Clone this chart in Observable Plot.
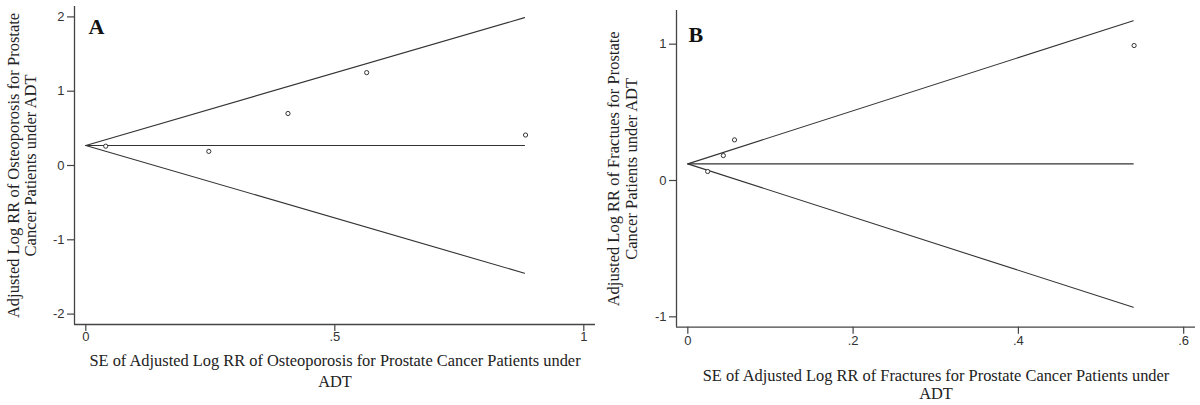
<!DOCTYPE html>
<html>
<head>
<meta charset="utf-8">
<script src="https://cdn.jsdelivr.net/npm/d3@7"></script>
<script src="https://cdn.jsdelivr.net/npm/@observablehq/plot@0.6"></script>
<style>
  body { margin: 0; background: #fff; }
  #row { display: flex; width: 1200px; height: 405px; }
  #row svg { display: block; }
</style>
</head>
<body>
<div id="row"></div>
<script>
// ---------- Panel A: Osteoporosis ----------
const panelLabelA = "A";
const seA = [0.04, 0.247, 0.406, 0.564, 0.883];
const logRRA = [0.26, 0.19, 0.70, 1.25, 0.41];
const pooledA = 0.27;
const seMaxA = 0.881;
const upperEndA = 1.99;
const lowerEndA = -1.45;
const xTicksA = [0, 0.5, 1];
const xTickLabelsA = ["0", ".5", "1"];
const yTicksA = [-2, -1, 0, 1, 2];
const yTickLabelsA = ["-2", "-1", "0", "1", "2"];
const xDomainA = [-0.0227, 1.0235];
const yDomainA = [-2.14, 2.14];
const xTitleA = "SE of Adjusted Log RR of Osteoporosis for Prostate Cancer Patients under\nADT";
const yTitleA = "Adjusted Log RR of Osteoporosis for Prostate\nCancer Patients under ADT";

// ---------- Panel B: Fractures ----------
const panelLabelB = "B";
const seB = [0.024, 0.043, 0.0565, 0.540];
const logRRB = [0.066, 0.183, 0.298, 0.99];
const pooledB = 0.122;
const seMaxB = 0.539;
const upperEndB = 1.172;
const lowerEndB = -0.93;
const xTicksB = [0, 0.2, 0.4, 0.6];
const xTickLabelsB = ["0", ".2", ".4", ".6"];
const yTicksB = [-1, 0, 1];
const yTickLabelsB = ["-1", "0", "1"];
const xDomainB = [-0.0137, 0.6143];
const yDomainB = [-1.076, 1.247];
const xTitleB = "SE of Adjusted Log RR of Fractures for Prostate Cancer Patients under\nADT";
const yTitleB = "Adjusted Log RR of Fractues for Prostate\nCancer Patients under ADT";

const SERIF = "'Liberation Serif', 'Times New Roman', serif";
const SANS = "'Liberation Sans', Arial, sans-serif";
const INK = "#333";

function funnel(cfg) {
  const pts = cfg.se.map((s, i) => ({se: s, rr: cfg.rr[i]}));
  const upper = [{se: 0, rr: cfg.pooled}, {se: cfg.seMax, rr: cfg.upperEnd}];
  const lower = [{se: 0, rr: cfg.pooled}, {se: cfg.seMax, rr: cfg.lowerEnd}];
  const mid = [{se: 0, rr: cfg.pooled}, {se: cfg.seMax, rr: cfg.pooled}];
  const fx = d => cfg.xTickLabels[cfg.xTicks.findIndex(t => Math.abs(t - d) < 1e-9)];
  const fy = d => cfg.yTickLabels[cfg.yTicks.findIndex(t => Math.abs(t - d) < 1e-9)];
  return Plot.plot({
    width: 600,
    height: 405,
    marginLeft: cfg.m[0],
    marginRight: cfg.m[1],
    marginTop: cfg.m[2],
    marginBottom: cfg.m[3],
    style: {background: "#fff", fontFamily: SANS, fontSize: "13px", color: INK, overflow: "visible"},
    x: {domain: cfg.xDomain, label: null},
    y: {domain: cfg.yDomain, label: null},
    marks: [
      Plot.axisX(cfg.xTicks, {
        tickFormat: fx, tickSize: 7, tickPadding: cfg.xPad, label: null,
        fontSize: 13, fontFamily: SANS, stroke: "#444", fill: "#333", strokeWidth: 1.2
      }),
      Plot.axisY(cfg.yTicks, {
        tickFormat: fy, tickSize: 7, tickPadding: 3, label: null,
        fontSize: 13, fontFamily: SANS, stroke: "#444", fill: "#333", strokeWidth: 1.2
      }),
      Plot.ruleX([cfg.xDomain[0]], {stroke: "#444", strokeWidth: 1.3}),
      Plot.ruleY([cfg.yDomain[0]], {stroke: "#444", strokeWidth: 1.3}),
      Plot.line(upper, {x: "se", y: "rr", stroke: INK, strokeWidth: 1.1}),
      Plot.line(lower, {x: "se", y: "rr", stroke: INK, strokeWidth: 1.1}),
      Plot.line(mid, {x: "se", y: "rr", stroke: INK, strokeWidth: 1.1}),
      Plot.dot(pts, {x: "se", y: "rr", r: 2.1, stroke: INK, strokeWidth: 1, fill: "white"}),
      Plot.text([cfg.label], {
        frameAnchor: "top-left", dx: cfg.labelDx, dy: cfg.labelDy,
        textAnchor: "start", lineAnchor: "bottom",
        fontFamily: SERIF, fontWeight: "bold", fontSize: 22, fill: "#111"
      }),
      Plot.text([cfg.xTitle], {
        frameAnchor: "bottom", dy: cfg.xTitleDy, lineAnchor: "top", textAnchor: "middle",
        lineHeight: cfg.xTitleLH, fontFamily: SERIF, fontSize: 16.4, fill: "#222"
      }),
      Plot.text([cfg.yTitle], {
        frameAnchor: "left", dx: cfg.yTitleDx, rotate: -90, lineAnchor: "middle", textAnchor: "middle",
        lineHeight: 1.04, fontFamily: SERIF, fontSize: 16.5, fill: "#222"
      })
    ]
  });
}

const row = document.getElementById("row");
row.appendChild(funnel({
  se: seA, rr: logRRA, pooled: pooledA, seMax: seMaxA, upperEnd: upperEndA, lowerEnd: lowerEndA,
  xTicks: xTicksA, xTickLabels: xTickLabelsA, yTicks: yTicksA, yTickLabels: yTickLabelsA,
  xDomain: xDomainA, yDomain: yDomainA, xTitle: xTitleA, yTitle: yTitleA, label: panelLabelA,
  m: [74, 5, 6, 81], xPad: 0, labelDx: 14, labelDy: 27, xTitleDy: 27, xTitleLH: 1.28, yTitleDx: -52.5
}));
row.appendChild(funnel({
  se: seB, rr: logRRB, pooled: pooledB, seMax: seMaxB, upperEnd: upperEndB, lowerEnd: lowerEndB,
  xTicks: xTicksB, xTickLabels: xTickLabelsB, yTicks: yTicksB, yTickLabels: yTickLabelsB,
  xDomain: xDomainB, yDomain: yDomainB, xTitle: xTitleB, yTitle: yTitleB, label: panelLabelB,
  m: [76, 5, 10, 78.3], xPad: 2, labelDx: 12, labelDy: 31, xTitleDy: 41, xTitleLH: 1.1, yTitleDx: -54
}));
</script>
</body>
</html>
